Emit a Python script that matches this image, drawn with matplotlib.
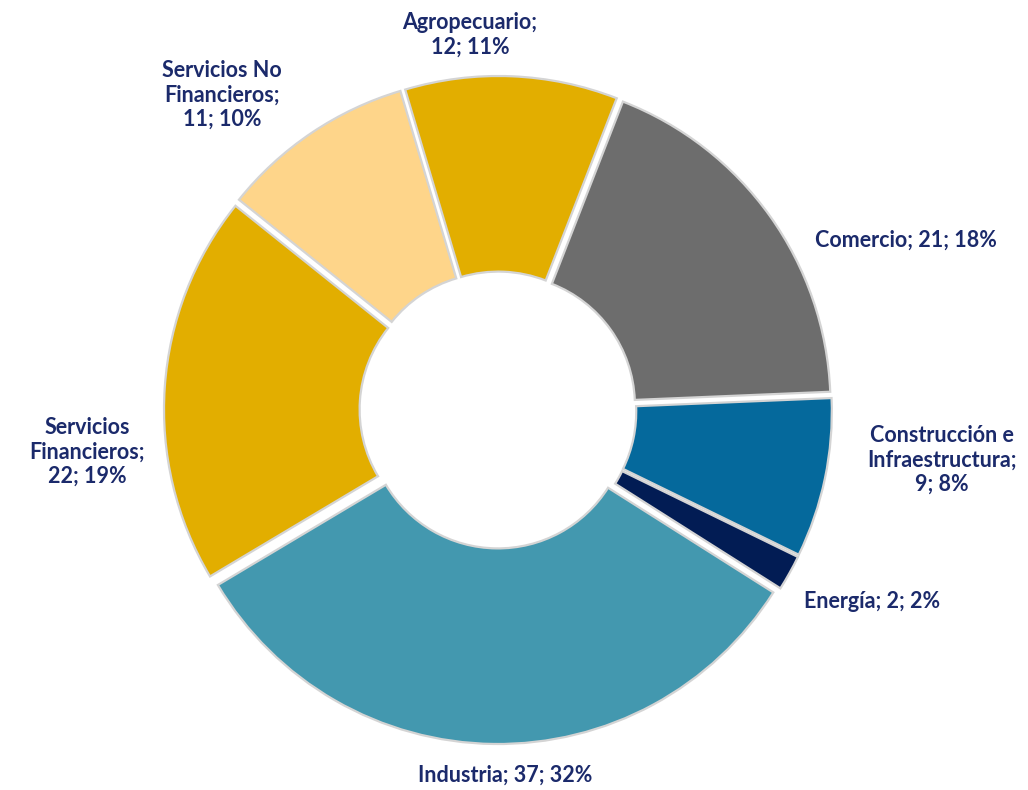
import matplotlib
matplotlib.use("Agg")
import matplotlib.pyplot as plt

# sectores y valores (número; porcentaje)
sectores = ["Agropecuario", "Comercio", "Construcción e\nInfraestructura",
            "Energía", "Industria", "Servicios\nFinancieros",
            "Servicios No\nFinancieros"]
valores = [12, 21, 9, 2, 37, 22, 11]
porcentajes = [11, 18, 8, 2, 32, 19, 10]
colores = ["#E2AE00", "#6D6D6D", "#05699C", "#021C54", "#4398AF",
           "#E2AE00", "#FED58A"]

# posiciones de las etiquetas en pixeles (x, y desde arriba)
pos_etiquetas = [(470, 35), (906, 240), (942, 460), (872, 602),
                 (505, 775), (87, 452), (222, 95)]
sep = ["\n", " ", "\n", " ", " ", "\n", "\n"]

W, H = 1028, 790
fig = plt.figure(figsize=(W / 100, H / 100), dpi=100)
ax = fig.add_axes([0, 0, 1, 1])

cx, cy, R = 498, H - 410, 326
ax.pie(valores, colors=colores, startangle=106.6, counterclock=False,
       radius=R, center=(cx, cy), explode=[8] * len(valores),
       wedgeprops=dict(width=R * 0.6, edgecolor="#d4d4d4", linewidth=1.6),
       frame=True)
ax.set_xlim(0, W)
ax.set_ylim(0, H)
ax.set_aspect("equal")
ax.axis("off")

for nombre, v, p, (x, y), s in zip(sectores, valores, porcentajes,
                                   pos_etiquetas, sep):
    if s == " ":
        texto = "{}; {}; {}%".format(nombre, v, p)
    else:
        texto = "{};\n{}; {}%".format(nombre, v, p)
    ax.text(x, H - y, texto, ha="center", va="center", fontsize=15.5,
            fontweight="bold", color="#1B2A6B", family="Lato",
            linespacing=1.2)

fig.savefig("out.png", dpi=100)
